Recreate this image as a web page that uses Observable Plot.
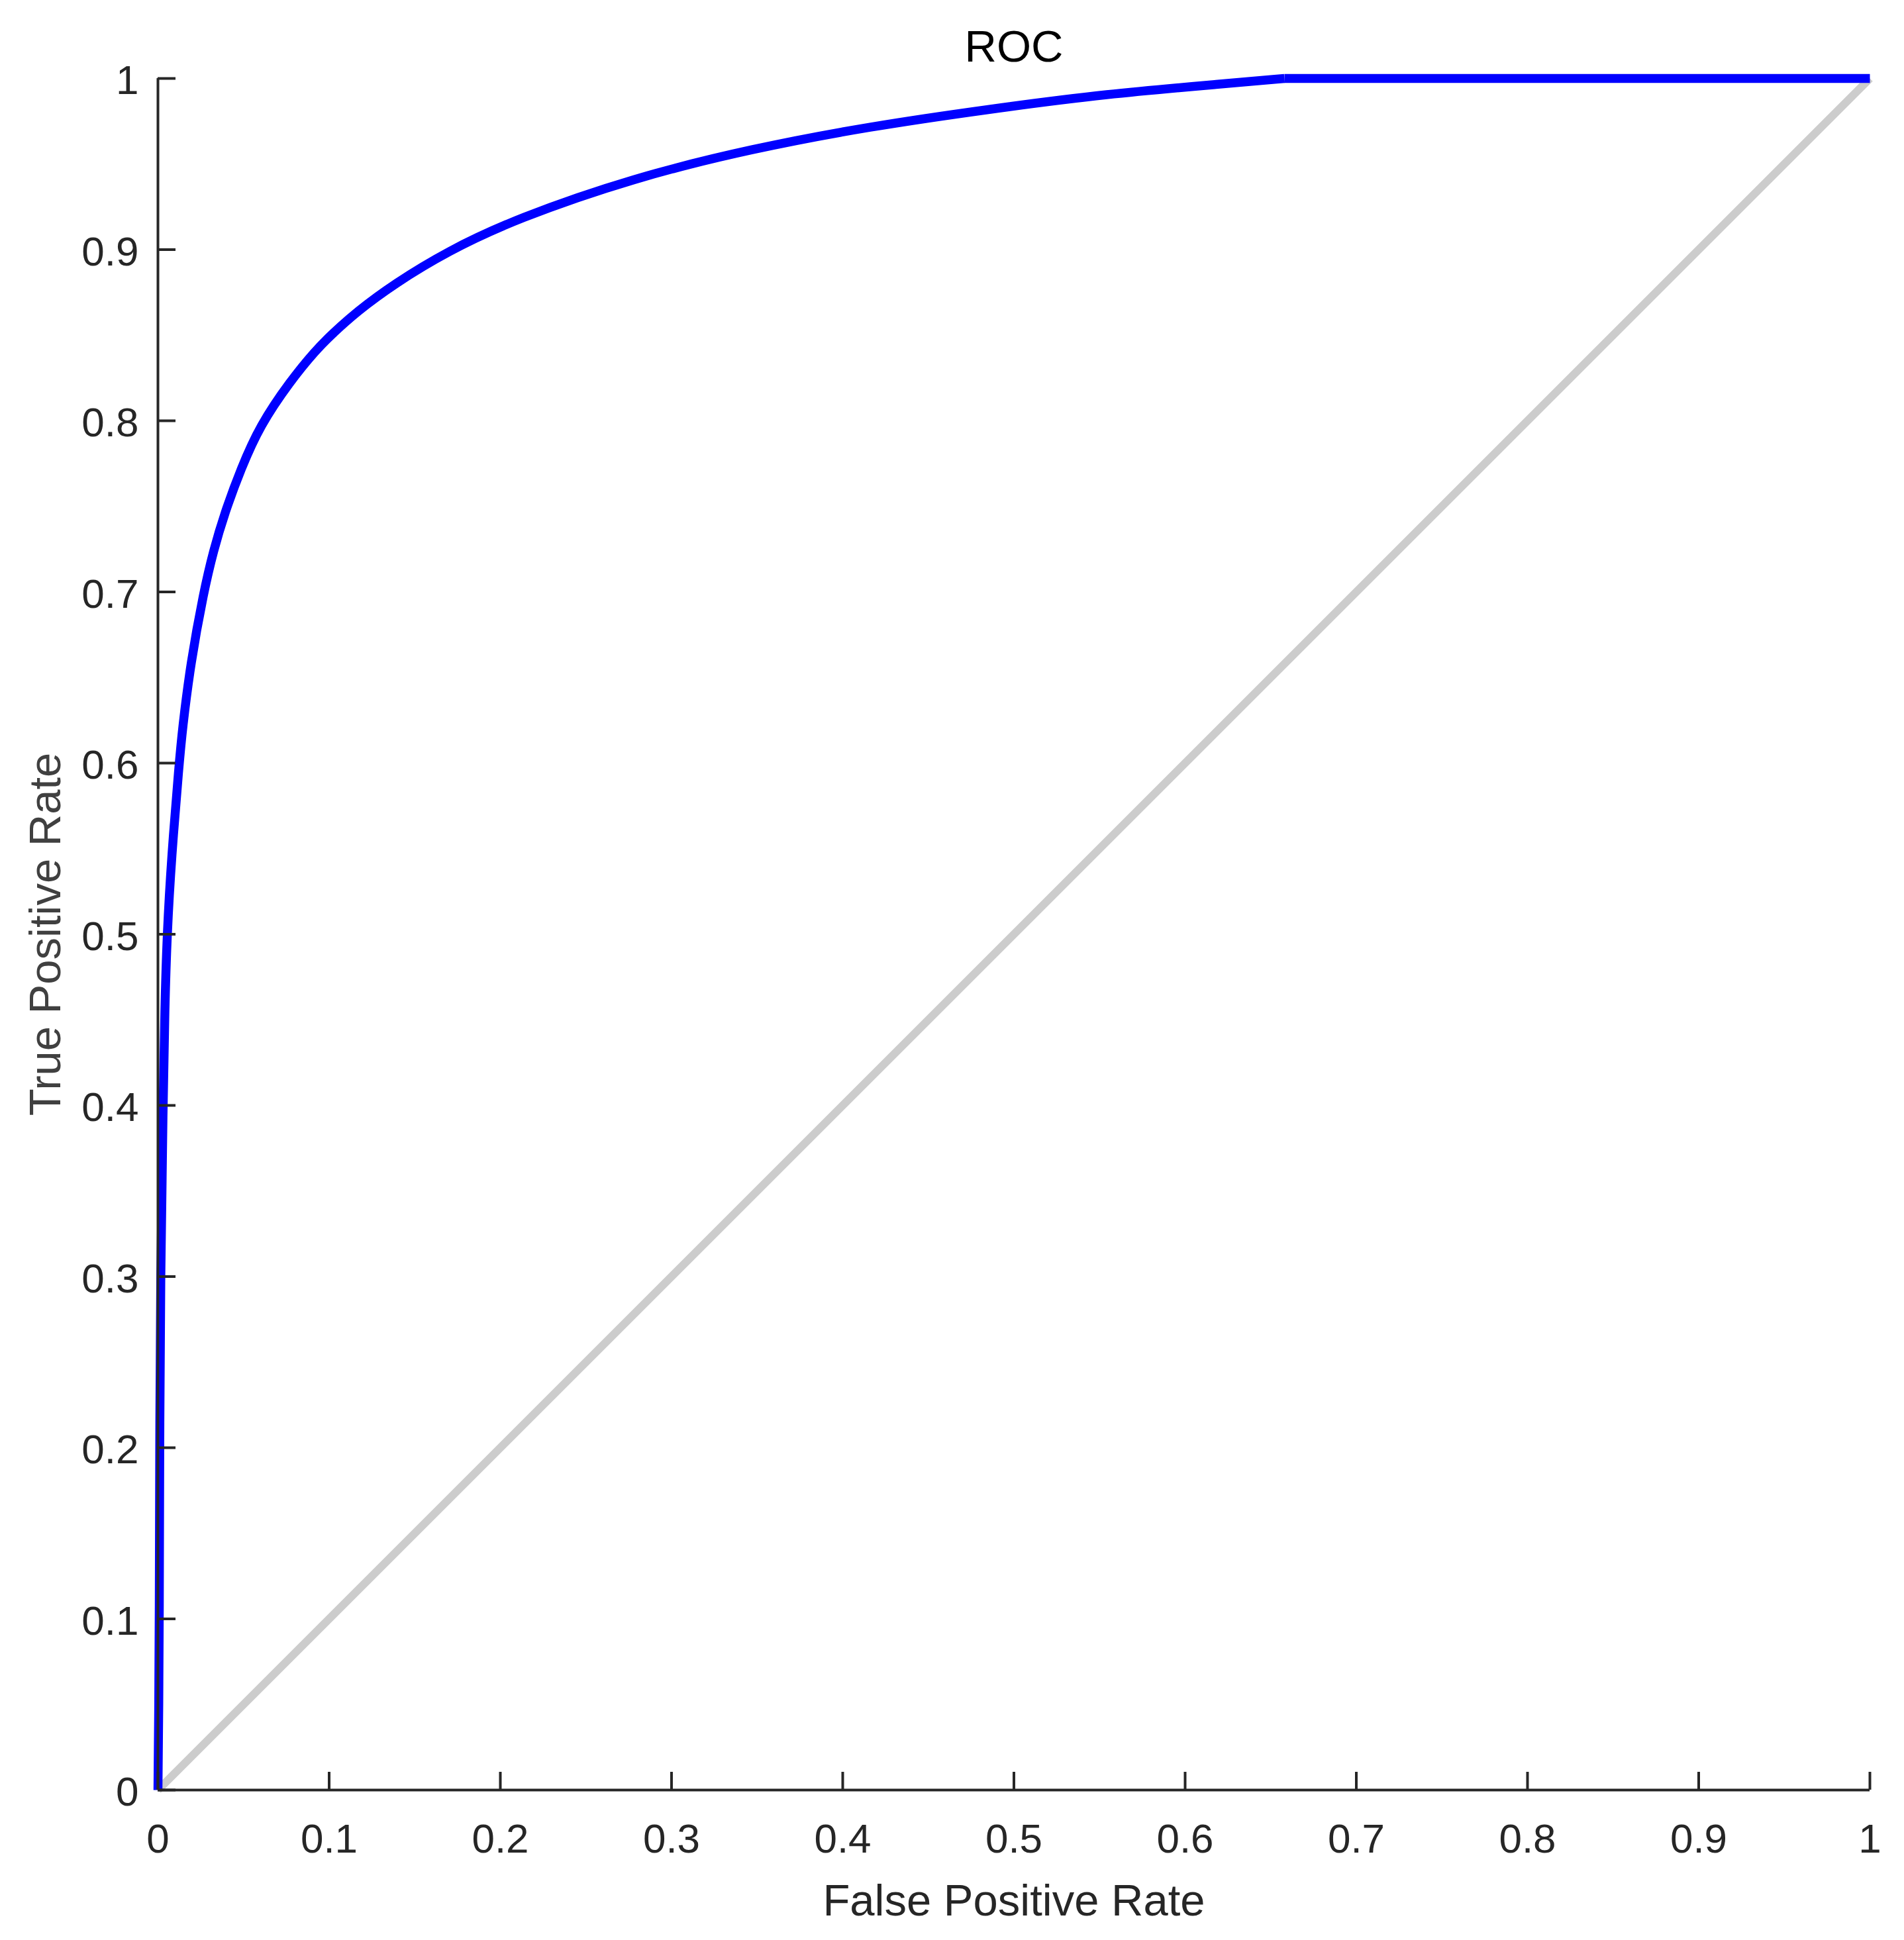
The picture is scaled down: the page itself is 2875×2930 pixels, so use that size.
<!DOCTYPE html>
<html>
<head>
<meta charset="utf-8">
<script src="https://cdn.jsdelivr.net/npm/d3@7"></script>
<script src="https://cdn.jsdelivr.net/npm/@observablehq/plot@0.6"></script>
<style>
  html, body { margin: 0; padding: 0; background: #fff; }
  svg { display: block; }
</style>
</head>
<body>
<div id="chart"></div>
<script>
const fpr = [0, 0.0005, 0.0008, 0.001, 0.0015, 0.003, 0.004, 0.0053, 0.0079, 0.0124, 0.0143, 0.019, 0.0267, 0.0324, 0.0389, 0.0485, 0.0594, 0.0775, 0.092, 0.101, 0.116, 0.138, 0.169, 0.209, 0.278, 0.347, 0.416, 0.485, 0.554, 0.624, 0.658, 1];
const tpr = [0, 0.05, 0.1, 0.2, 0.3, 0.4, 0.457, 0.5, 0.545, 0.6, 0.62, 0.658, 0.7, 0.724, 0.746, 0.772, 0.797, 0.8235, 0.841, 0.850, 0.8637, 0.880, 0.899, 0.918, 0.942, 0.959, 0.972, 0.982, 0.991, 0.997, 1.0, 1.0];
const chanceX = [0, 1];
const chanceY = [0, 1];
const xTicks = [0, 0.1, 0.2, 0.3, 0.4, 0.5, 0.6, 0.7, 0.8, 0.9, 1];
const xTickLabels = ["0", "0.1", "0.2", "0.3", "0.4", "0.5", "0.6", "0.7", "0.8", "0.9", "1"];
const yTicks = [0, 0.1, 0.2, 0.3, 0.4, 0.5, 0.6, 0.7, 0.8, 0.9, 1];
const yTickLabels = ["0", "0.1", "0.2", "0.3", "0.4", "0.5", "0.6", "0.7", "0.8", "0.9", "1"];
const titleText = "ROC";
const xLabel = "False Positive Rate";
const yLabel = "True Positive Rate";

const W = 2875, H = 2930;
const mL = 238, mR = 52, mT = 118, mB = 227;
const innerW = W - mL - mR, innerH = H - mT - mB;
const axisColor = "#262626";

const roc = fpr.map((x, i) => ({x, y: tpr[i]}));
const cornerIndex = roc.length - 2;              // where the curve first reaches 1
const rocCurved = roc.slice(0, cornerIndex + 1);  // smooth part
const rocFlat = roc.slice(cornerIndex);           // straight plateau to (1,1)
const chance = chanceX.map((x, i) => ({x, y: chanceY[i]}));

const chart = Plot.plot({
  width: W,
  height: H,
  marginLeft: mL,
  marginRight: mR,
  marginTop: mT,
  marginBottom: mB,
  style: {fontFamily: "'Liberation Sans', Arial, sans-serif", background: "#fff"},
  x: {domain: [0, 1]},
  y: {domain: [0, 1]},
  marks: [
    Plot.line(chance, {x: "x", y: "y", stroke: "#cccccc", strokeWidth: 12, strokeLinecap: "butt"}),
    Plot.line(rocCurved, {x: "x", y: "y", stroke: "#0000ff", strokeWidth: 13.5, curve: "basis", strokeLinejoin: "round", strokeLinecap: "butt"}),
    Plot.line(rocFlat, {x: "x", y: "y", stroke: "#0000ff", strokeWidth: 13.5, curve: "linear", strokeLinecap: "butt"}),
    Plot.ruleY([0], {stroke: axisColor, strokeWidth: 4}),
    Plot.ruleX([0], {stroke: axisColor, strokeWidth: 4}),
    Plot.tickX(xTicks, {x: d => d, stroke: axisColor, strokeWidth: 4, insetTop: innerH - 27}),
    Plot.tickY(yTicks, {y: d => d, stroke: axisColor, strokeWidth: 4, insetRight: innerW - 27}),
    Plot.axisX({ticks: xTicks, tickSize: 0, tickPadding: 50, tickFormat: d => xTickLabels[xTicks.indexOf(d)], fontSize: 62, fill: axisColor, label: null, anchor: "bottom"}),
    Plot.axisY({ticks: yTicks, tickSize: 0, tickPadding: 29, tickFormat: d => yTickLabels[yTicks.indexOf(d)], fontSize: 62, fill: axisColor, label: null, anchor: "left", dy: 4}),
    Plot.text([titleText], {frameAnchor: "top", dy: -26, lineAnchor: "bottom", fontSize: 67, fill: "#000"}),
    Plot.text([xLabel], {frameAnchor: "bottom", dy: 189, lineAnchor: "bottom", fontSize: 67, fill: axisColor}),
    Plot.text([yLabel], {frameAnchor: "left", dx: -148, rotate: -90, textAnchor: "middle", lineAnchor: "bottom", fontSize: 67, fill: "#404040"})
  ]
});
document.getElementById("chart").appendChild(chart);
</script>
</body>
</html>
